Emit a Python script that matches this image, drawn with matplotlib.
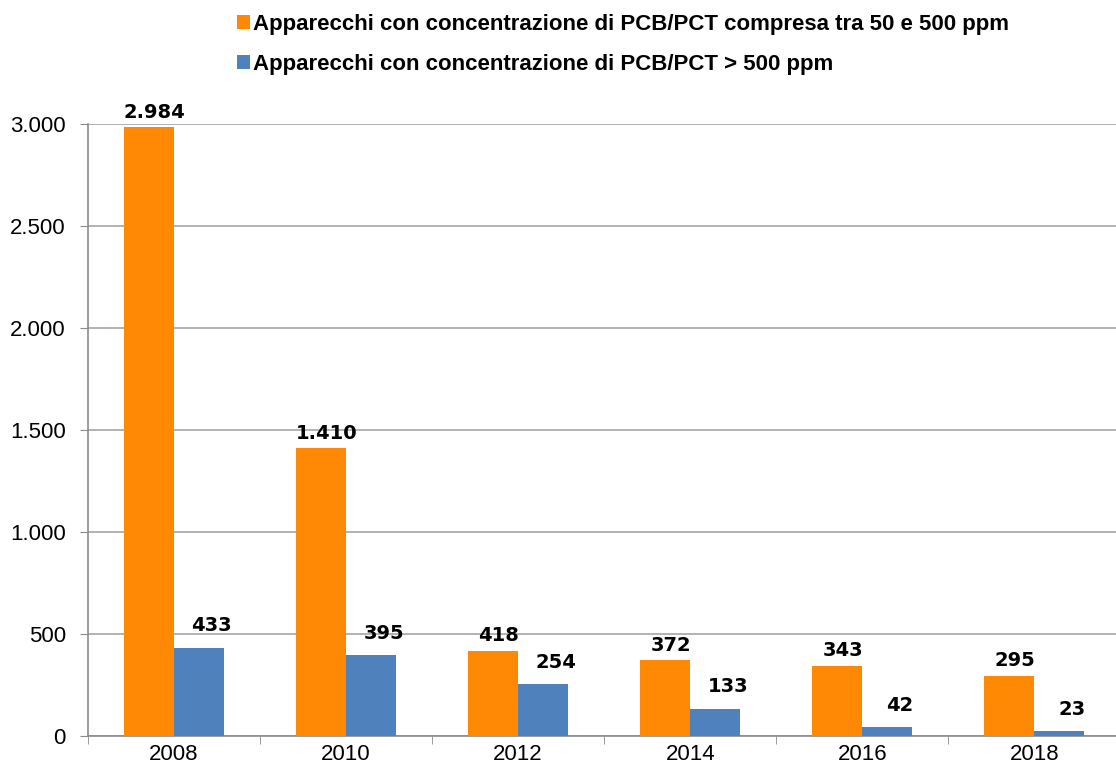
import matplotlib
matplotlib.use('Agg')
from matplotlib import pyplot as plt
from matplotlib.ticker import FuncFormatter
import numpy as np

anni = ['2008', '2010', '2012', '2014', '2016', '2018']
tra_50_500 = [2984, 1410, 418, 372, 343, 295]
oltre_500 = [433, 395, 254, 133, 42, 23]
etichette = ['Apparecchi con concentrazione di PCB/PCT compresa tra 50 e 500 ppm',
             'Apparecchi con concentrazione di PCB/PCT > 500 ppm']
colori = ['#FF8805', '#4F81BD']

def punto(v, pos=None):
    return f'{int(v):,}'.replace(',', '.')

plt.rcParams['font.family'] = ['Liberation Sans', 'DejaVu Sans']

fig = plt.figure(figsize=(11.16, 7.73), dpi=100)
ax = fig.add_axes([0.0789, 0.0479, 0.925, 0.7917])

x = np.arange(len(anni))
w = 0.29
b1 = ax.bar(x - w/2, tra_50_500, w, color=colori[0], label=etichette[0], zorder=3)
b2 = ax.bar(x + w/2, oltre_500, w, color=colori[1], label=etichette[1], zorder=3)

# etichette dei valori sopra le barre
for bars, vals, dx, dy in [(b1, tra_50_500, 4, 4), (b2, oltre_500, 9, 9)]:
    for r, v in zip(bars, vals):
        ax.annotate(punto(v), (r.get_x() + r.get_width()/2, v),
                    xytext=(dx, dy), textcoords='offset points',
                    ha='center', va='bottom', fontsize=14, fontweight='bold',
                    family='DejaVu Sans', annotation_clip=False)

ax.set_xlim(-0.5, len(anni) - 0.5)
ax.set_ylim(0, 3000)
ax.set_yticks(np.arange(0, 3001, 500))
ax.yaxis.set_major_formatter(FuncFormatter(punto))
ax.set_xticks(x)
ax.set_xticklabels(anni)
ax.set_xticks(np.arange(-0.5, len(anni)), minor=True)
ax.tick_params(axis='x', which='major', length=0, labelsize=16, pad=6)
ax.tick_params(axis='x', which='minor', length=6, color='#8c8c8c')
ax.tick_params(axis='y', length=6, color='#8c8c8c', labelsize=16, pad=10)

ax.grid(axis='y', color='#a6a6a6', linewidth=1.2, zorder=0)
for s in ['top', 'right']:
    ax.spines[s].set_visible(False)
for s in ['left', 'bottom']:
    ax.spines[s].set_color('#8c8c8c')
    ax.spines[s].set_linewidth(1.2)

ax.legend(loc='upper left', bbox_to_anchor=(0.194, 1.008), bbox_transform=fig.transFigure,
          frameon=False, handlelength=0.6, handleheight=0.6, handletextpad=0.12,
          labelspacing=0.85, prop={'family': ['Liberation Sans Narrow', 'Liberation Sans'],
                                   'weight': 'bold', 'size': 16})

fig.savefig('out.png', dpi=100)
